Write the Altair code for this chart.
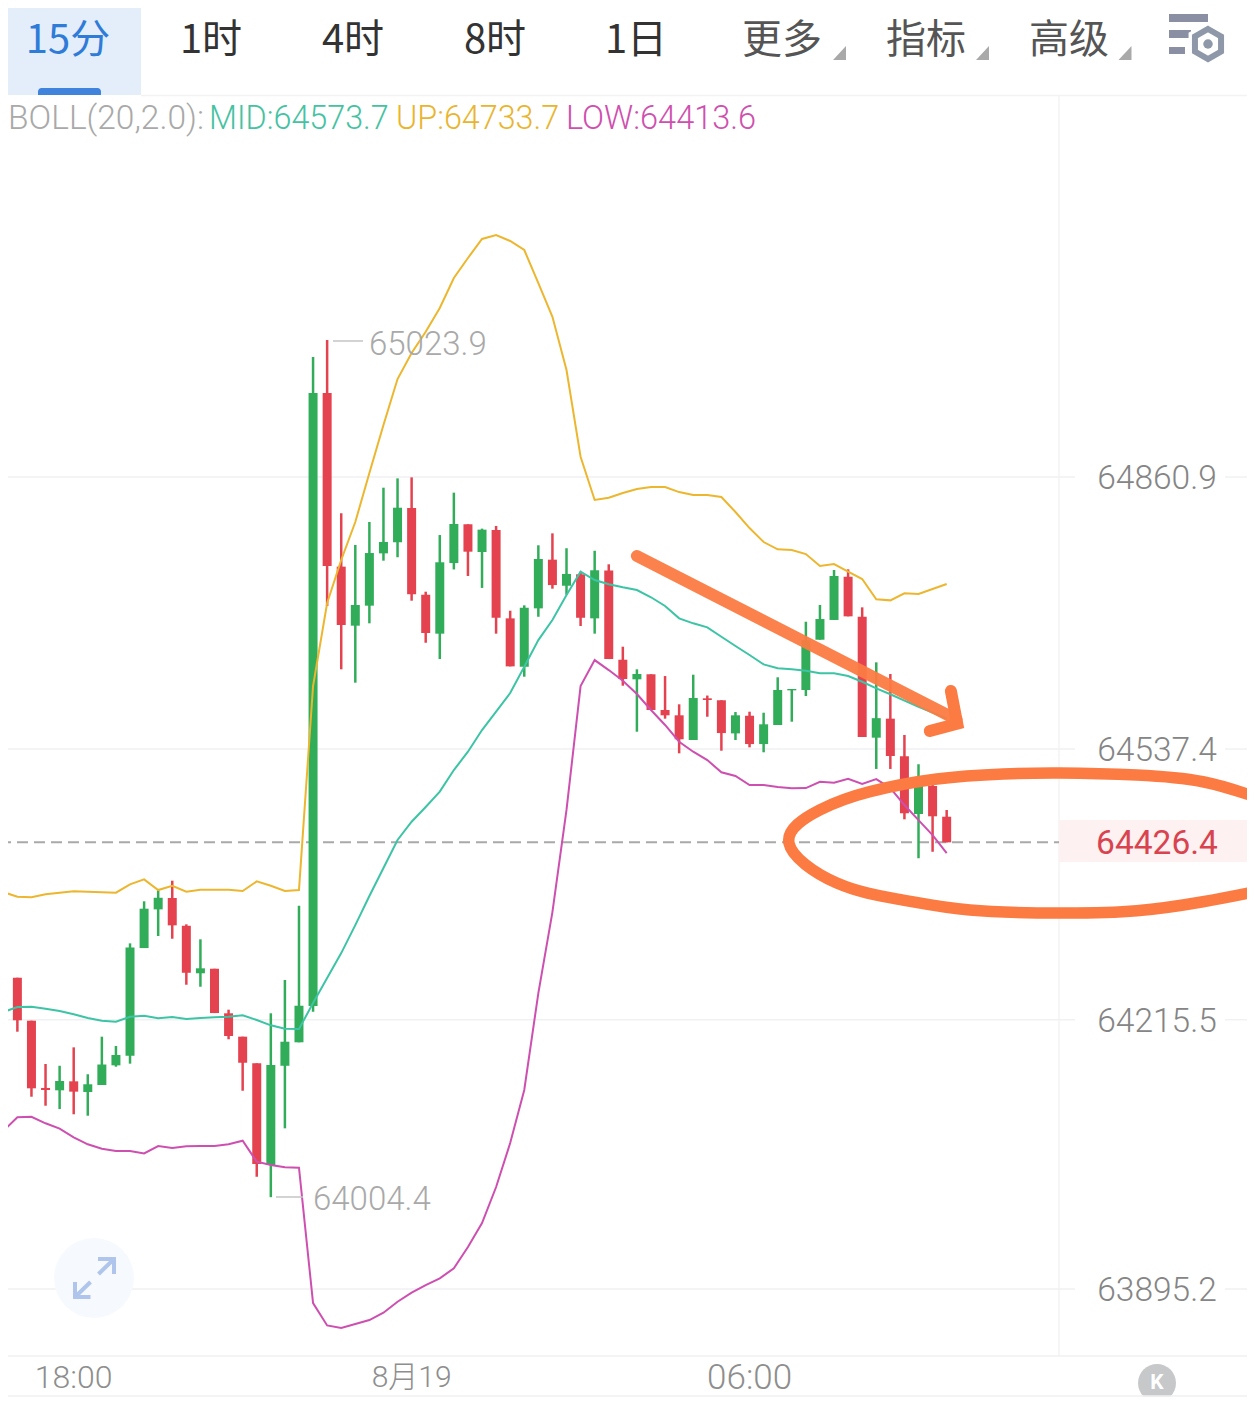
import altair as alt
import pandas as pd

opens = [64262.7,64265.4,64214.3,64134.3,64131.5,64142.2,64129.5,64137.8,64161.2,64172.7,
         64300.7,64346.7,64360.2,64327.2,64270.7,64276.1,64223.1,64195.3,64163.6,64042.6,
         64160.7,64188.6,64231.8,64960.8,64754.3,64684.1,64707.9,64770.1,64783.3,64824.1,
         64720.9,64674.6,64758.6,64804.7,64771.7,64797.9,64692.8,64635.2,64704.7,64762.6,
         64731.6,64745.2,64692.8,64749.6,64643.6,64620.3,64626.3,64583.8,64577.5,64548.1,
         64597.7,64595.4,64556.0,64577.0,64543.3,64566.0,64607.2,64607.6,64667.4,64690.9,
         64742.3,64694.7,64550.9,64573.5,64528.8,64460.1,64493.4,64456.9]
highs = [64266.3,64265.4,64214.3,64162.8,64160.7,64182.6,64150.6,64195.3,64184.2,64306.3,
         64356.3,64369.7,64380.8,64328.9,64311.1,64276.1,64227.4,64195.3,64163.6,64223.1,
         64262.7,64351.0,65003.6,65023.9,64817.8,64780.1,64807.4,64848.2,64859.3,64860.5,
         64724.5,64791.9,64842.3,64804.7,64799.5,64802.7,64701.9,64708.3,64779.7,64793.9,
         64776.2,64748.3,64773.2,64757.1,64659.1,64632.2,64626.3,64624.2,64590.6,64625.8,
         64601.0,64595.4,64581.4,64581.8,64580.6,64622.7,64608.8,64688.8,64708.7,64750.3,
         64751.1,64705.9,64640.5,64626.6,64554.1,64519.3,64506.5,64464.9]
lows = [64213.9,64201.2,64123.9,64113.2,64109.3,64103.0,64101.3,64137.8,64159.6,64163.2,
        64300.7,64315.0,64311.8,64257.1,64254.7,64223.4,64192.2,64131.0,64028.7,64004.4,
        64086.3,64188.6,64225.0,64707.5,64632.2,64616.3,64686.9,64761.4,64765.5,64713.8,
        64663.8,64644.4,64751.0,64743.2,64729.0,64674.6,64635.7,64623.4,64694.7,64728.1,
        64720.9,64683.7,64674.6,64644.4,64612.7,64558.0,64583.8,64573.5,64532.3,64548.1,
        64575.8,64535.4,64548.1,64539.4,64533.5,64566.0,64569.9,64600.4,64667.4,64690.9,
        64695.2,64551.7,64513.7,64513.7,64453.8,64407.5,64415.2,64426.4]
closes = [64265.7,64214.8,64133.9,64131.9,64142.6,64129.9,64138.7,64162.2,64173.5,64301.5,
          64347.5,64360.5,64327.7,64271.3,64276.6,64223.4,64196.1,64164.3,64043.8,64161.6,
          64189.3,64232.1,64960.8,64755.1,64684.9,64708.7,64770.5,64783.6,64824.4,64721.4,
          64675.4,64759.5,64805.0,64772.1,64798.3,64693.5,64635.7,64705.4,64763.4,64732.4,
          64745.6,64693.5,64750.0,64644.4,64620.7,64626.6,64583.8,64577.5,64549.0,64598.1,
          64595.7,64556.4,64577.5,64543.3,64566.8,64607.6,64608.8,64667.0,64692.0,64743.2,
          64695.2,64551.7,64574.1,64529.1,64461.0,64493.4,64457.4,64426.4]
upper = [64367.3,64361.7,64361.0,64364.6,64366.5,64368.2,64367.7,64367.0,64366.5,64376.5,
         64382.4,64369.7,64374.8,64367.7,64370.1,64370.1,64370.1,64368.5,64380.0,64374.8,
         64368.5,64369.7,64612.3,64711.0,64762.2,64807.4,64865.7,64922.7,64977.4,65008.4,
         65033.7,65061.9,65097.6,65121.4,65144.0,65148.7,65141.6,65130.9,65091.6,65051.5,
         64988.2,64885.0,64833.6,64836.3,64841.9,64846.7,64849.1,64849.1,64843.0,64839.5,
         64839.5,64837.1,64819.3,64800.2,64783.6,64774.9,64774.1,64769.3,64755.0,64757.4,
         64748.3,64739.6,64715.4,64714.2,64722.6,64721.8,64727.7,64733.7]
middle = [64224.6,64230.6,64230.9,64228.6,64225.8,64221.9,64217.5,64214.3,64213.1,64219.0,
          64220.2,64217.1,64218.7,64216.3,64217.5,64218.3,64219.0,64220.7,64215.1,64208.8,
          64204.8,64204.4,64235.3,64265.0,64294.7,64328.0,64362.6,64395.9,64429.2,64450.9,
          64468.5,64486.7,64512.4,64534.2,64560.0,64581.8,64604.0,64635.2,64667.0,64690.9,
          64720.5,64748.3,64738.4,64733.3,64729.7,64726.5,64717.9,64707.5,64692.8,64686.9,
          64682.1,64670.9,64659.9,64649.2,64638.1,64633.4,64632.2,64630.5,64627.4,64627.4,
          64624.2,64617.4,64609.6,64602.5,64594.9,64587.7,64580.8,64573.7]
lower = [64083.1,64099.4,64100.1,64092.3,64085.9,64075.6,64067.3,64062.1,64059.3,64059.3,
         64056.5,64065.2,64062.8,64064.9,64065.2,64065.2,64067.3,64071.6,64046.6,64042.6,
         64039.9,64039.4,63878.5,63851.9,63848.8,63853.5,63858.3,63867.0,63880.1,63890.8,
         63899.9,63907.9,63919.8,63945.1,63973.7,64016.5,64068.8,64131.9,64247.2,64343.5,
         64464.9,64612.3,64643.2,64631.3,64618.6,64602.8,64583.8,64566.0,64546.1,64534.2,
         64524.3,64509.7,64505.3,64494.6,64494.6,64492.2,64490.7,64491.0,64498.5,64497.3,
         64502.0,64495.8,64501.7,64491.0,64470.8,64452.9,64435.1,64413.6]

grid_prices = [64860.9, 64537.4, 64215.5, 63895.2]
grid_labels = ["64860.9", "64537.4", "64215.5", "63895.2"]
last_price = 64426.4
time_idx = [5, 29, 53]
time_labels = ["18:00", "8月19", "06:00"]
time_sizes = [32, 30, 35]

arrow_idx = [45.0, 67.7]
arrow_price = [64767.0, 64572.5]
head_idx = [67.3, 67.75, 65.8]
head_price = [64606.4, 64567.5, 64558.8]
ring_idx = [88.9, 85.2, 80.5, 75.05, 71.0, 66.3, 61.55, 58.0, 55.8, 59.2, 63.9, 68.65, 75.05, 80.5, 85.2, 88.9]
ring_price = [64480.7, 64498.5, 64506.5, 64508.9, 64507.7, 64501.7, 64486.7, 64465.0, 64425.6,
              64378.0, 64357.8, 64345.9, 64342.4, 64345.1, 64355.8, 64367.7]

GREEN, RED = "#31ad5a", "#e5424f"
LATIN = "Roboto, 'Noto Sans CJK SC', sans-serif"
CJK = "'Noto Sans CJK SC', Roboto, sans-serif"

n = len(opens)
df = pd.DataFrame({"i": range(n), "o": opens, "h": highs, "l": lows, "c": closes,
                   "up": upper, "mid": middle, "lo": lower})
df["top"] = df[["o", "c"]].max(axis=1)
df["bot"] = df[["o", "c"]].min(axis=1)
df["col"] = [GREEN if c >= o else RED for o, c in zip(opens, closes)]

xs = alt.Scale(domain=[0.334, 88.33], nice=False, padding=0)
ys = alt.Scale(domain=[63763.2, 65418.7], nice=False, padding=0)
X = lambda f: alt.X(f, type="quantitative", scale=xs, axis=None)
Y = lambda f: alt.Y(f, type="quantitative", scale=ys, axis=None)
one = pd.DataFrame({"a": [0]})
V = lambda px: alt.value(px - 8)


def rect(x0, x1, y0, y1, color, **kw):
    return alt.Chart(one).mark_rect(color=color, **kw).encode(x=V(x0), x2=V(x1), y=V(y0), y2=V(y1))


def hline(x0, x1, y, color, w=1.5):
    return alt.Chart(one).mark_rule(color=color, strokeWidth=w).encode(x=V(x0), x2=V(x1), y=V(y))


def vline(x, y0, y1, color, w=1.5):
    return alt.Chart(one).mark_rule(color=color, strokeWidth=w).encode(x=V(x), y=V(y0), y2=V(y1))


def txt(s, x, y, color, size, font=LATIN, align="center", weight=400):
    return alt.Chart(pd.DataFrame({"t": [s]})).mark_text(
        color=color, fontSize=size, font=font, align=align, baseline="middle", fontWeight=weight
    ).encode(x=V(x), y=V(y), text="t:N")


def sym(shape, x, y, size, fill=None, stroke=None, sw=0, **kw):
    mk = dict(shape=shape, size=size, strokeWidth=sw, opacity=1)
    if fill:
        mk.update(fill=fill, filled=True)
    else:
        mk.update(fill="transparent", filled=False)
    if stroke:
        mk.update(stroke=stroke)
    else:
        mk.update(strokeOpacity=0)
    mk.update(kw)
    return alt.Chart(one).mark_point(**mk).encode(x=V(x), y=V(y))


layers = []

# header
layers += [rect(0, 141, 0, 95, "#e4eefb"),
           alt.Chart(one).mark_bar(color="#3f83dc", cornerRadiusTopLeft=7, cornerRadiusTopRight=7).encode(
               x=V(38), x2=V(101), y=V(88), y2=V(95)),
           hline(141, 1255, 95.5, "#f3f3f3"),
           vline(1059, 96, 1356, "#f3f3f3")]
for s, cx, col, sz in [("15分", 68, "#2f7bd8", 40), ("1时", 211, "#333333", 40), ("4时", 353, "#333333", 40),
                       ("8时", 495, "#333333", 40), ("1日", 636, "#333333", 40), ("更多", 782, "#555555", 40),
                       ("指标", 926, "#555555", 40), ("高级", 1069, "#555555", 40)]:
    layers.append(txt(s, cx, 40.5, col, sz, font=CJK, weight=400))
for cx in [839.5, 982.5, 1125]:
    layers.append(sym("M6.5,-7L6.5,7L-6.5,7Z", cx, 53, 4, fill="#a9a9a9"))
layers += [rect(1169, 1208, 14, 22, "#8a8fa3"), rect(1169, 1191, 30, 38, "#8a8fa3"), rect(1169, 1185, 47, 54, "#8a8fa3"),
           sym("M0,-1L0.87,-0.5L0.87,0.5L0,1L-0.87,0.5L-0.87,-0.5Z", 1208, 44, 2000, fill="#ffffff"),
           sym("M0,-1L0.87,-0.5L0.87,0.5L0,1L-0.87,0.5L-0.87,-0.5Z", 1208, 44, 900, stroke="#8f98a8", sw=6),
           sym("circle", 1208, 44, 90, fill="#8f98a8")]

# legend
layers += [txt("BOLL(20,2.0):", 8, 119, "#a9a9a9", 33.5, align="left", weight=300),
           txt("MID:64573.7", 209, 119, "#45c2a2", 32.3, align="left", weight=300),
           txt("UP:64733.7", 396, 119, "#e9b52f", 32.3, align="left", weight=300),
           txt("LOW:64413.6", 566, 119, "#cf4fae", 32.5, align="left", weight=300)]

# grid
gdf = pd.DataFrame({"p": grid_prices, "t": grid_labels})
layers += [alt.Chart(gdf).mark_rule(color="#f0f1f3", strokeWidth=1.5).encode(y=Y("p"), x=V(0), x2=V(1075)),
           alt.Chart(gdf).mark_rule(color="#f0f1f3", strokeWidth=1.5).encode(y=Y("p"), x=V(1225), x2=V(1255)),
           alt.Chart(gdf).mark_text(color="#858585", fontSize=33.5, font=LATIN, fontWeight=300, align="center",
                                    baseline="middle", dy=2).encode(y=Y("p"), x=V(1157), text="t:N")]

# last price
ldf = pd.DataFrame({"p": [last_price], "t": ["64426.4"]})
layers += [rect(1059, 1255, 820, 862, "#fdf1f1"),
           alt.Chart(ldf).mark_rule(color="#a9a9a9", strokeWidth=2, strokeDash=[11, 6]).encode(y=Y("p"), x=V(0), x2=V(1059)),
           alt.Chart(ldf).mark_text(color="#d9434f", fontSize=33.5, font=LATIN, fontWeight=400, align="center",
                                    baseline="middle", dy=2).encode(y=Y("p"), x=V(1157), text="t:N")]

# candles
layers += [alt.Chart(df).mark_rule(strokeWidth=2.5, clip=True).encode(
               x=X("i"), y=Y("h"), y2="l", color=alt.Color("col:N", scale=None)),
           alt.Chart(df).mark_bar(size=9, clip=True).encode(
               x=X("i"), y=Y("top"), y2="bot", color=alt.Color("col:N", scale=None))]

# BOLL lines
for field, col in [("up", "#ecb62e"), ("mid", "#3cc4a5"), ("lo", "#cd4fb0")]:
    layers.append(alt.Chart(df).mark_line(color=col, strokeWidth=2, clip=True).encode(x=X("i"), y=Y(field)))

# extreme labels
layers += [hline(333, 363, 341, "#c4c4c4"), hline(276, 303, 1197, "#c4c4c4"),
           txt("65023.9", 369, 345, "#a9a9a9", 33, align="left", weight=300),
           txt("64004.4", 313, 1200, "#a9a9a9", 33, align="left", weight=300)]

# bottom axis
tdf = pd.DataFrame({"i": time_idx, "t": time_labels, "fs": time_sizes})
layers += [hline(0, 1255, 1356, "#f0f0f0"),
           alt.Chart(tdf).mark_text(color="#8e8e8e", font=LATIN, fontWeight=300, align="center",
                                    baseline="middle").encode(x=X("i"), y=V(1378), text="t:N",
                                                              size=alt.Size("fs:Q", scale=None, legend=None)),
           sym("circle", 1157, 1383, 1444, fill="#c6c8ca"),
           txt("K", 1157, 1383, "#ffffff", 21, weight=700),
           rect(1100, 1215, 1396.5, 1412, "#ffffff"),
           hline(0, 1255, 1396, "#f0f0f0")]

# expand button
layers += [sym("circle", 94, 1278, 6400, fill="#f6fafe"),
           sym("M3.5,-19L19.5,-19L19.5,-4M19.5,-19L4,-4M-19.5,4L-19.5,19L-4,19M-19.5,19L-4,4Z", 94.5, 1278, 4,
               stroke="#afc5ec", sw=4)]

# hand-drawn annotations
ORANGE = "#fb7b42"
ring = pd.DataFrame({"i": ring_idx, "p": ring_price, "k": range(len(ring_idx))})
arrow = pd.DataFrame({"i": arrow_idx, "p": arrow_price, "k": range(2)})
head = pd.DataFrame({"i": head_idx, "p": head_price, "k": range(3)})
layers += [alt.Chart(ring).mark_line(color=ORANGE, strokeWidth=11.5, interpolate="natural", clip=True).encode(
               x=X("i"), y=Y("p"), order="k:Q"),
           alt.Chart(arrow).mark_line(color=ORANGE, strokeWidth=12, strokeCap="round", opacity=0.95).encode(
               x=X("i"), y=Y("p"), order="k:Q"),
           alt.Chart(head).mark_line(color=ORANGE, strokeWidth=12, strokeCap="round", strokeJoin="miter").encode(
               x=X("i"), y=Y("p"), order="k:Q")]

chart = alt.layer(*layers).properties(
    width=1239, height=1392, padding=0, autosize=alt.AutoSizeParams(type="none"), background="#ffffff"
).resolve_scale(color="independent").configure_view(strokeWidth=0)

chart.save("out.html", embed_options={"renderer": "svg", "actions": False})
